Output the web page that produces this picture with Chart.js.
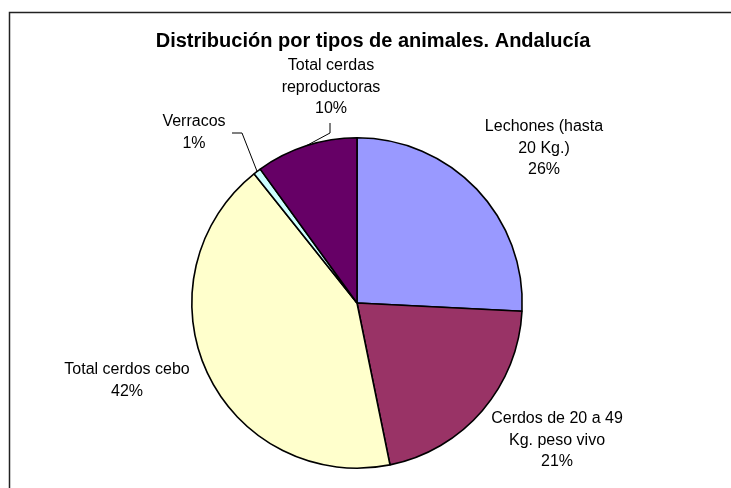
<!DOCTYPE html>
<html><head><meta charset="utf-8">
<script src="https://cdn.jsdelivr.net/npm/chart.js@4"></script>
<style>html,body{margin:0;padding:0;background:#fff;overflow:hidden}canvas{display:block}</style>
</head><body>
<canvas id="c" width="731" height="488"></canvas>
<script>
const chartTitle = 'Distribución por tipos de animales. Andalucía';
const categories = [
  ['Lechones (hasta', '20 Kg.)'],
  ['Cerdos de 20 a 49', 'Kg. peso vivo'],
  ['Total cerdos cebo'],
  ['Verracos'],
  ['Total cerdas', 'reproductoras']
];
const shares = [25.8, 21.0, 42.49, 0.75, 9.96];
const sliceColors = ['#9999FF', '#993366', '#FFFFCC', '#CCFFFF', '#660066'];

// label block placement (centre x, first line y) and optional leader elbows
const labelLayout = [
  { x: 544, y: 127 },
  { x: 557, y: 419 },
  { x: 127, y: 370 },
  { x: 194, y: 122, leader: [[242, 133], [232, 133]] },
  { x: 331, y: 66, leader: [[330, 133], [330, 123]] }
];

const FONT = '"Liberation Sans", Arial, sans-serif';

const decor = {
  id: 'decor',
  beforeDraw(chart) {
    const ctx = chart.ctx;
    ctx.save();
    ctx.fillStyle = '#fff';
    ctx.fillRect(0, 0, chart.width, chart.height);
    ctx.strokeStyle = '#222';
    ctx.lineWidth = 1.5;
    ctx.beginPath();
    ctx.moveTo(9.5, chart.height);
    ctx.lineTo(9.5, 12.5);
    ctx.lineTo(chart.width, 12.5);
    ctx.stroke();
    ctx.restore();
  },
  afterDraw(chart) {
    const ctx = chart.ctx;
    ctx.save();
    ctx.fillStyle = '#000';
    ctx.textAlign = 'center';
    ctx.textBaseline = 'middle';
    ctx.font = 'bold 20px ' + FONT;
    ctx.fillText(chartTitle, 373, 41);

    const meta = chart.getDatasetMeta(0);
    const total = shares.reduce((a, b) => a + b, 0);
    ctx.font = '16px ' + FONT;
    meta.data.forEach((arc, i) => {
      const L = labelLayout[i];
      const lines = categories[i].concat([Math.round(shares[i] / total * 100) + '%']);
      lines.forEach((t, k) => ctx.fillText(t, L.x, L.y + k * 21.5));
      if (L.leader) {
        const p = arc.getProps(['x', 'y', 'startAngle', 'endAngle', 'outerRadius'], true);
        const mid = (p.startAngle + p.endAngle) / 2;
        const ex = p.x + Math.cos(mid) * p.outerRadius;
        const ey = p.y + Math.sin(mid) * p.outerRadius;
        ctx.strokeStyle = '#000';
        ctx.lineWidth = 1;
        ctx.beginPath();
        ctx.moveTo(ex, ey);
        L.leader.forEach(([lx, ly]) => ctx.lineTo(lx, ly));
        ctx.stroke();
      }
    });
    ctx.restore();
  }
};

new Chart(document.getElementById('c'), {
  type: 'pie',
  data: {
    labels: categories.map(l => l.join(' ')),
    datasets: [{
      data: shares,
      backgroundColor: sliceColors,
      borderColor: '#000',
      borderWidth: 1.6
    }]
  },
  options: {
    responsive: false,
    animation: false,
    events: [],
    layout: { padding: { left: 191, right: 208, top: 137, bottom: 19 } },
    plugins: { legend: { display: false }, tooltip: { enabled: false }, title: { display: false } }
  },
  plugins: [decor]
});
</script>
</body></html>
